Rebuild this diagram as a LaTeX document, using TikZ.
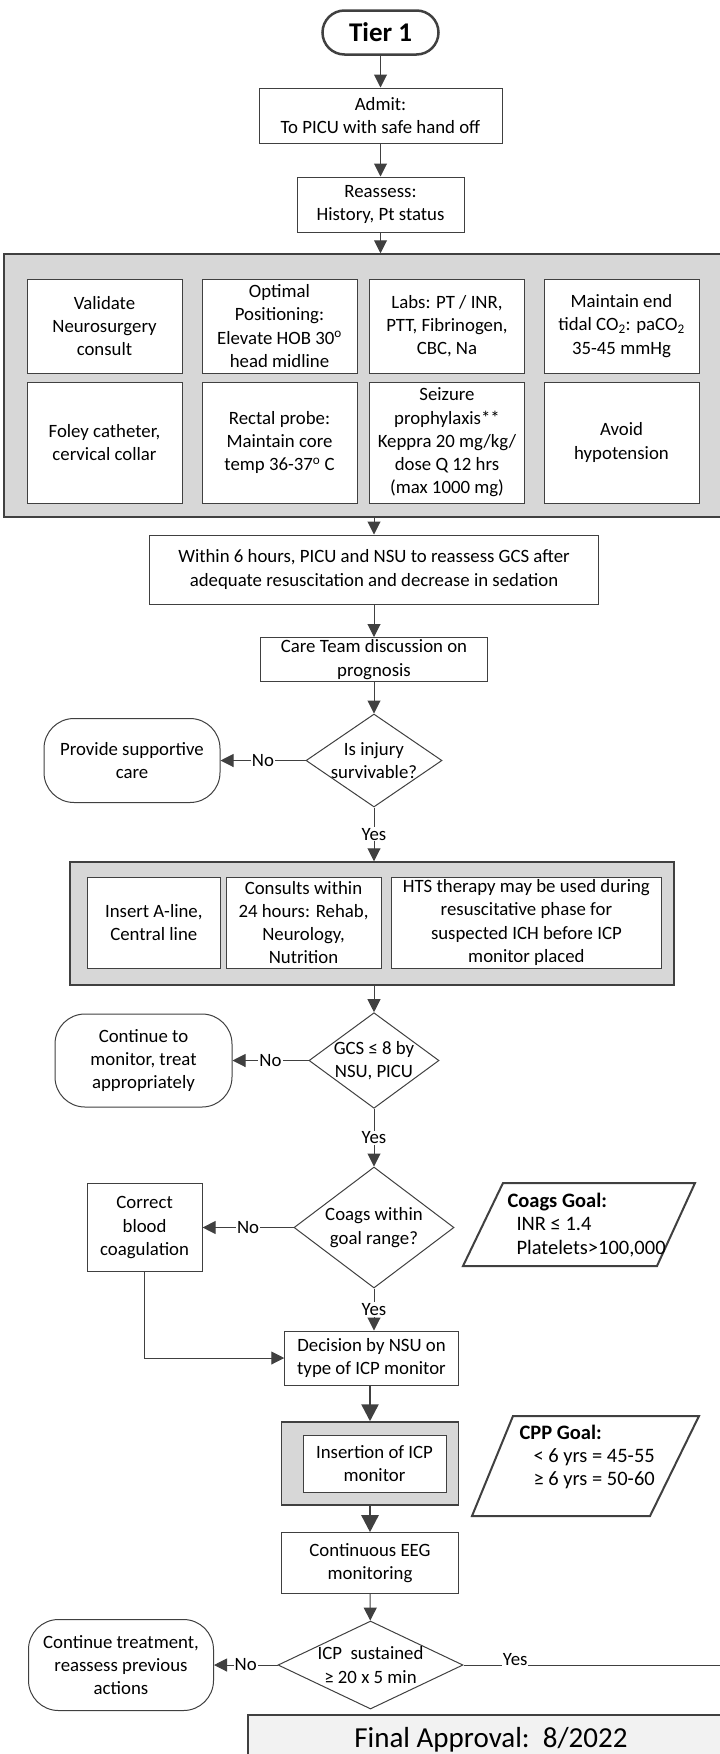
\documentclass[tikz,border=0pt]{standalone}
\usepackage{fontspec}
\setmainfont{Carlito}
\usetikzlibrary{shapes.geometric,arrows.meta}

\definecolor{linegray}{RGB}{64,64,64}
\definecolor{panelgray}{RGB}{215,215,215}
\definecolor{finalgray}{RGB}{242,242,242}

\newcommand{\bodysize}{\fontsize{18.8}{23.3}\selectfont}
\newcommand{\goalsize}{\fontsize{20.5}{23.3}\selectfont}

\tikzset{every picture/.style={line width=1pt}}
\tikzset{
  every node/.style={font=\bodysize},
  flow/.style={draw=linegray, line width=1pt, -{Triangle[length=13pt,width=13pt]}},
  heavyflow/.style={draw=linegray, line width=2.5pt, -{Triangle[length=17pt,width=17pt]}},
  plainline/.style={draw=linegray, line width=1pt},
  procbox/.style={draw=linegray, fill=white, line width=1pt, align=center, inner sep=1pt},
  panel/.style={draw=linegray, fill=panelgray, line width=1.5pt, inner sep=0pt},
  endcap/.style={draw=linegray, fill=white, line width=1pt, rounded corners=30pt, align=center, inner sep=1pt},
  choice/.style={diamond, draw=linegray, fill=white, line width=1pt, inner sep=0pt},
  choicetext/.style={align=center, inner sep=0pt},
  goalbox/.style={draw=linegray, line width=2pt, line join=miter},
  goaltext/.style={align=left, inner sep=0pt, anchor=west, font=\goalsize},
  answer/.style={fill=white, inner sep=1pt},
}

\begin{document}
\begin{tikzpicture}[x=1pt,y=1pt,yscale=-1,xscale=1]
\useasboundingbox (0,0) rectangle (720,1754);

% Start
\node[draw=linegray, line width=2.5pt, rounded corners=22pt, minimum width=116, minimum height=44,
      font=\fontsize{27}{32}\selectfont\bfseries] (tier) at (380.5,32.5) {Tier 1};

% Admission
\node[procbox, minimum width=243, minimum height=55] (admit) at (380.5,115.5) {Admit:\\To PICU with safe hand off};
\node[procbox, minimum width=167, minimum height=55] (reassess) at (380.5,204.5) {Reassess:\\History, Pt status};

% Panel: first bundle
\node[panel, minimum width=736, minimum height=263] (panelA) at (372,385.5) {};
\node[procbox, minimum width=155, minimum height=94] (validate) at (104.5,326) {Validate\\Neurosurgery\\consult};
\node[procbox, minimum width=155, minimum height=94] (position) at (279.5,326) {Optimal\\Positioning:\\Elevate HOB 30\textsuperscript{o}\\head midline};
\node[procbox, minimum width=155, minimum height=94] (labs) at (447,326) {Labs: PT / INR,\\PTT, Fibrinogen,\\CBC, Na};
\node[procbox, minimum width=155, minimum height=94] (etco) at (621.5,326) {Maintain end\\tidal CO\textsubscript{2}: paCO\textsubscript{2}\\35-45 mmHg};
\node[procbox, minimum width=155, minimum height=121] (foley) at (104.5,442.5) {Foley catheter,\\cervical collar};
\node[procbox, minimum width=155, minimum height=121] (rectal) at (279.5,442.5) {Rectal probe:\\Maintain core\\temp 36-37\textsuperscript{o} C};
\node[procbox, minimum width=155, minimum height=121] (seizure) at (447,442.5) {Seizure\\prophylaxis**\\Keppra 20 mg/kg/\\dose Q 12 hrs\\(max 1000 mg)};
\node[procbox, minimum width=155, minimum height=121] (hypo) at (621.5,442.5) {Avoid\\hypotension};

% Reassessment
\node[procbox, minimum width=449, minimum height=69] (within) at (374,569.5) {Within 6 hours, PICU and NSU to reassess GCS after\\adequate resuscitation and decrease in sedation};
\node[procbox, minimum width=227, minimum height=44] (care) at (374,659.5) {Care Team discussion on\\prognosis};

% Decision: survivable
\node[choice, minimum width=136, minimum height=93, label={[choicetext]center:Is injury\\survivable?}] (surv) at (374,760.5) {};
\node[endcap, minimum width=176, minimum height=84] (provide) at (132,760.5) {Provide supportive\\care};

% Panel: second bundle
\node[panel, minimum width=604, minimum height=123] (panelB) at (372,923.5) {};
\node[procbox, minimum width=133, minimum height=91] (aline) at (153.8,922.5) {Insert A-line,\\Central line};
\node[procbox, minimum width=155, minimum height=91] (consults) at (303.5,922.5) {Consults within\\24 hours: Rehab,\\Neurology,\\Nutrition};
\node[procbox, minimum width=269.5, minimum height=91] (hts) at (526.4,922.5) {HTS therapy may be used during\\resuscitative phase for\\suspected ICH before ICP\\monitor placed};

% Decision: GCS
\node[choice, minimum width=130, minimum height=95.6, label={[choicetext]center:GCS ≤ 8 by\\NSU, PICU}] (gcs) at (374,1060.5) {};
\node[endcap, minimum width=177, minimum height=93] (contmon) at (143.5,1060.5) {Continue to\\monitor, treat\\appropriately};

% Decision: coagulation
\node[choice, minimum width=160, minimum height=121, label={[choicetext]center:Coags within\\goal range?}] (coags) at (374,1227.5) {};
\node[procbox, minimum width=115, minimum height=88] (correct) at (144.6,1227.5) {Correct\\blood\\coagulation};

%Shape: Parallelogram
\draw[goalbox] (503,1183) -- (695,1183) -- (657,1266) -- (463,1266) -- cycle;
\node[goaltext] (coagsgoal) at (507,1225) {\textbf{Coags Goal:}\\\hspace*{9pt}INR ≤ 1.4\\\hspace*{9pt}Platelets>100,000};

% ICP monitor
\node[procbox, minimum width=173.5, minimum height=54] (decide) at (371.5,1358) {Decision by NSU on\\type of ICP monitor};
\node[panel, minimum width=177, minimum height=83] (insert) at (370,1463.5) {};
\node[procbox, minimum width=143, minimum height=57] (inserttext) at (374.5,1463.5) {Insertion of ICP\\monitor};

%Shape: Parallelogram
\draw[goalbox] (513,1416) -- (699,1416) -- (650,1516) -- (472,1516) -- cycle;
\node[goaltext] (cppgoal) at (519,1457) {\textbf{CPP Goal:}\\\hspace*{14pt}< 6 yrs = 45-55\\\hspace*{14pt}≥ 6 yrs = 50-60};

\node[procbox, minimum width=177, minimum height=60.6] (eeg) at (370,1563) {Continuous EEG\\monitoring};

% Decision: ICP
\node[choice, minimum width=185, minimum height=88, label={[choicetext]center:ICP\ \ sustained\\≥ 20 x 5 min}] (icp) at (370.5,1665) {};
\node[endcap, minimum width=185, minimum height=91] (conttreat) at (121,1665) {Continue treatment,\\reassess previous\\actions};
\coordinate (yesend) at (722,1665);

% Approval stamp
\node[draw=linegray, fill=finalgray, line width=2pt, minimum width=486, minimum height=49,
      font=\fontsize{29}{35}\selectfont] (approval) at (491,1739.5) {Final Approval:\ \ 8/2022};

% Connectors
\draw[flow] (tier) -- (admit);
\draw[flow] (admit) -- (reassess);
\draw[flow] (reassess.south) -- (reassess.south |- panelA.north);
\draw[flow] (within.north |- panelA.south) -- (within.north);
\draw[flow] (within) -- (care);
\draw[flow] (care) -- (surv);
\draw[flow] (surv) -- node[answer] {No} (provide);
\draw[flow] (surv.south) -- node[answer] {Yes} (surv.south |- panelB.north);
\draw[flow] (gcs.north |- panelB.south) -- (gcs.north);
\draw[flow] (gcs) -- node[answer] {No} (contmon);
\draw[flow] (gcs) -- node[answer] {Yes} (coags);
\draw[flow] (coags) -- node[answer] {No} (correct);
\draw[flow] (coags.south) -- node[answer] {Yes} (coags.south |- decide.north);
\draw[flow] (correct.south) |- (decide.west);
\draw[heavyflow] (insert.north |- decide.south) -- (insert.north);
\draw[heavyflow] (insert) -- (eeg);
\draw[flow] (eeg) -- (icp);
\draw[flow] (icp) -- node[answer] {No} (conttreat);
\draw[plainline] (icp.east) -- node[answer, anchor=base, pos=0.2] {Yes} (yesend);

\end{tikzpicture}
\end{document}
